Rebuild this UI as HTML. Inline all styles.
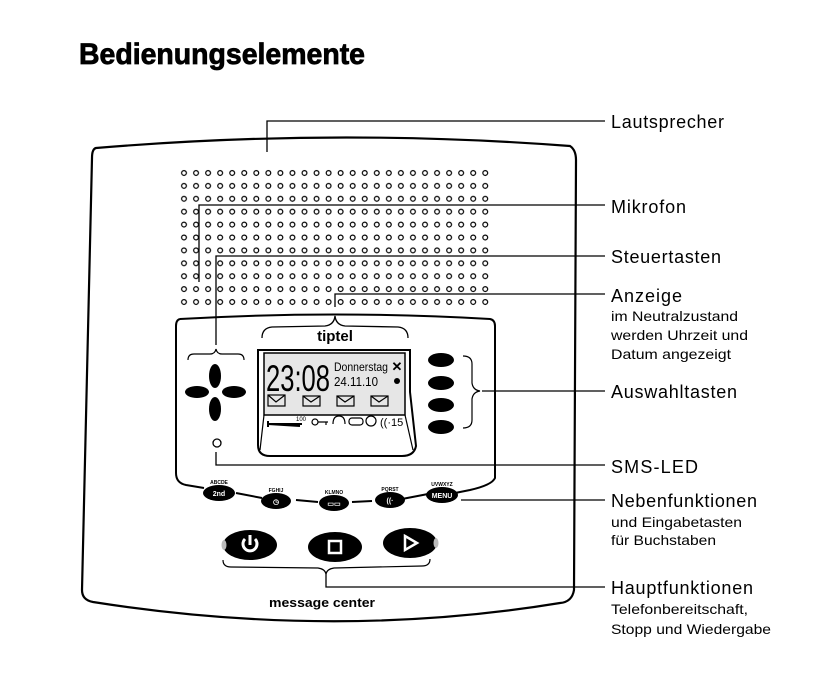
<!DOCTYPE html>
<html><head><meta charset="utf-8"><style>
html,body{margin:0;padding:0;background:#fff;}
svg{display:block;}
text{font-family:"Liberation Sans",sans-serif;fill:#000;}
</style></head><body>
<svg width="827" height="692" viewBox="0 0 827 692" xmlns="http://www.w3.org/2000/svg">
<defs>
<pattern id="dots" x="178" y="167" width="12.05" height="12.9" patternUnits="userSpaceOnUse">
<circle cx="6" cy="6" r="2.4" fill="none" stroke="#000" stroke-width="1.2"/>
</pattern>
</defs>
<text x="79" y="64" font-size="30" font-weight="bold" textLength="286" lengthAdjust="spacingAndGlyphs" stroke="#000" stroke-width="0.8">Bedienungselemente</text>

<!-- case -->
<path d="M96,148 Q335,128 570,146 Q576,150 576,160 L574,590 Q572,602 560,603 Q335,640 93,602 Q82,600 82,590 L92,158 Q92,149 96,148 Z" fill="none" stroke="#000" stroke-width="2.2"/>
<rect x="178" y="167" width="311" height="142" fill="url(#dots)"/>

<!-- inner panel -->
<path d="M180,319 Q335,310 490,319 Q495,320 495,326 L495,478 Q492,485 470,490 L455,493 M428,494 L402,499 M372,501 L352,502 M318,502 L296,500 M262,498 L236,493 M204,488 L186,485 Q176,483 176,473 L176,326 Q176,320 180,319" fill="none" stroke="#000" stroke-width="2"/>

<!-- brace over display -->
<path d="M262,338 Q262,328 272,327 L325,326 Q334,325 335,316 Q336,325 345,326 L398,327 Q408,328 408,338" fill="none" stroke="#000" stroke-width="1.3"/>
<text x="335" y="341" font-size="15" font-weight="bold" text-anchor="middle">tiptel</text>

<!-- display -->
<path d="M258,350 L410,350 L410,392 L416,446 Q414,456 402,456 L270,456 Q258,456 258,445 Z" fill="none" stroke="#000" stroke-width="2"/>
<rect x="264" y="353" width="141" height="62" fill="#e6e6e6" stroke="#000" stroke-width="1.5"/>
<path d="M264,415 L260,450 M405,415 L413,450" stroke="#000" stroke-width="1.2"/>
<text x="266" y="391" font-size="37" textLength="64" lengthAdjust="spacingAndGlyphs">23:08</text>
<text x="334" y="371" font-size="12" textLength="54" lengthAdjust="spacingAndGlyphs">Donnerstag</text>
<text x="334" y="386" font-size="13" textLength="44" lengthAdjust="spacingAndGlyphs">24.11.10</text>
<text x="397" y="371" font-size="13" font-weight="bold" text-anchor="middle">✕</text>
<circle cx="397" cy="381" r="3" fill="#000"/>
<g fill="none" stroke="#000" stroke-width="1.2">
<rect x="268" y="395" width="17" height="11"/><path d="M268,395 L276,402 L285,395"/>
<rect x="303" y="396" width="17" height="10"/><path d="M303,396 L311,402 L320,396"/>
<rect x="337" y="396" width="17" height="10"/><path d="M337,396 L345,402 L354,396"/>
<rect x="371" y="396" width="17" height="10"/><path d="M371,396 L379,402 L388,396"/>
<path d="M268,424 L302,424 M268,421 L268,427 M268,424 L300,426" stroke-width="2"/>
<circle cx="315" cy="422" r="3"/><path d="M318,422 L328,422 M326,422 L326,425"/>
<path d="M333,424 Q333,416 339,416 Q345,416 345,424"/>
<rect x="349" y="418" width="14" height="7" rx="3"/>
<circle cx="371" cy="421" r="5"/>
</g>
<text x="296" y="421" font-size="6">100</text>
<text x="380" y="426" font-size="11">((·15</text>

<!-- steuertasten -->
<path d="M188,360 Q188,354 194,354 L210,354 Q215,354 216,349 Q217,354 222,354 L238,354 Q244,354 244,360" fill="none" stroke="#000" stroke-width="1.2"/>
<g fill="#000">
<ellipse cx="215" cy="376" rx="6" ry="12"/>
<ellipse cx="215" cy="409" rx="6" ry="12"/>
<ellipse cx="197" cy="392" rx="12" ry="6"/>
<ellipse cx="234" cy="392" rx="12" ry="6"/>
</g>
<circle cx="217" cy="443" r="4" fill="none" stroke="#000" stroke-width="1.3"/>

<!-- auswahltasten -->
<g fill="#000">
<ellipse cx="441" cy="360" rx="13" ry="7"/>
<ellipse cx="441" cy="383" rx="13" ry="7"/>
<ellipse cx="441" cy="405" rx="13" ry="7"/>
<ellipse cx="441" cy="427" rx="13" ry="7"/>
</g>
<path d="M463,356 Q472,356 472,364 L472,383 Q473,390 480,391 Q473,392 472,399 L472,420 Q472,428 463,428" fill="none" stroke="#000" stroke-width="1.2"/>

<!-- small function buttons -->
<g fill="#000">
<ellipse cx="219" cy="493" rx="16" ry="8"/>
<ellipse cx="276" cy="501" rx="15" ry="8"/>
<ellipse cx="334" cy="503" rx="15" ry="8"/>
<ellipse cx="390" cy="500" rx="15" ry="8"/>
<ellipse cx="442" cy="495" rx="16" ry="8"/>
</g>
<g font-size="5" font-weight="bold" text-anchor="middle">
<text x="219" y="484">ABCDE</text><text x="276" y="492">FGHIJ</text><text x="334" y="494">KLMNO</text><text x="390" y="491">PQRST</text><text x="442" y="486">UVWXYZ</text>
</g>
<g font-size="7" font-weight="bold" text-anchor="middle">
<text x="219" y="496" style="fill:#fff">2nd</text><text x="442" y="498" style="fill:#fff">MENU</text>
<text x="276" y="504" style="fill:#fff">◷</text><text x="334" y="506" style="fill:#fff">▭▭</text><text x="390" y="503" style="fill:#fff">((·</text>
</g>

<!-- main buttons -->
<ellipse cx="250" cy="545" rx="27" ry="15" fill="#000"/>
<ellipse cx="335" cy="547" rx="27" ry="15" fill="#000"/>
<ellipse cx="410" cy="543" rx="27" ry="15" fill="#000"/>
<ellipse cx="224" cy="545" rx="2.5" ry="5" fill="#bbb"/>
<ellipse cx="436" cy="543" rx="2.5" ry="5" fill="#bbb"/>
<path d="M245,539 A7,7 0 1 0 255,539 M250,535 L250,545" fill="none" stroke="#fff" stroke-width="3"/>
<rect x="329" y="541" width="12" height="12" fill="none" stroke="#fff" stroke-width="2.5"/>
<path d="M405,536 L417,543 L405,550 Z" fill="none" stroke="#fff" stroke-width="2.5"/>
<path d="M223,560 Q223,567 231,567 L318,568 Q325,569 326,574 Q327,569 334,568 L422,566 Q430,566 430,559" fill="none" stroke="#000" stroke-width="1.2"/>
<text x="322" y="607" font-size="13" font-weight="bold" text-anchor="middle" textLength="106" lengthAdjust="spacingAndGlyphs">message center</text>

<!-- leader lines -->
<g fill="none" stroke="#000" stroke-width="1.3">
<path d="M267,152 L267,121 L605,121"/>
<path d="M199,282 L199,205 L605,205"/>
<path d="M216,345 L216,256 L605,256"/>
<path d="M335,307 L335,294 L605,294"/>
<path d="M482,391 L605,391"/>
<path d="M216,452 L216,465 L605,465"/>
<path d="M461,500 L605,500"/>
<path d="M326,574 L326,587 L605,587"/>
</g>

<!-- labels -->
<g font-size="18" lengthAdjust="spacingAndGlyphs">
<text x="611" y="128" textLength="113">Lautsprecher</text>
<text x="611" y="213" textLength="75">Mikrofon</text>
<text x="611" y="263" textLength="110">Steuertasten</text>
<text x="611" y="302" textLength="71">Anzeige</text>
<text x="611" y="398" textLength="126">Auswahltasten</text>
<text x="611" y="473" textLength="87">SMS-LED</text>
<text x="611" y="507" textLength="146">Nebenfunktionen</text>
<text x="611" y="594" textLength="142">Hauptfunktionen</text>
</g>
<g font-size="14">
<text x="611" y="321" textLength="127" lengthAdjust="spacingAndGlyphs">im Neutralzustand</text>
<text x="611" y="340" textLength="137" lengthAdjust="spacingAndGlyphs">werden Uhrzeit und</text>
<text x="611" y="359" textLength="120" lengthAdjust="spacingAndGlyphs">Datum angezeigt</text>
<text x="611" y="527" textLength="131" lengthAdjust="spacingAndGlyphs">und Eingabetasten</text>
<text x="611" y="545" textLength="105" lengthAdjust="spacingAndGlyphs">für Buchstaben</text>
<text x="611" y="614" textLength="137" lengthAdjust="spacingAndGlyphs">Telefonbereitschaft,</text>
<text x="611" y="634" textLength="160" lengthAdjust="spacingAndGlyphs">Stopp und Wiedergabe</text>
</g>
</svg>
</body></html>
